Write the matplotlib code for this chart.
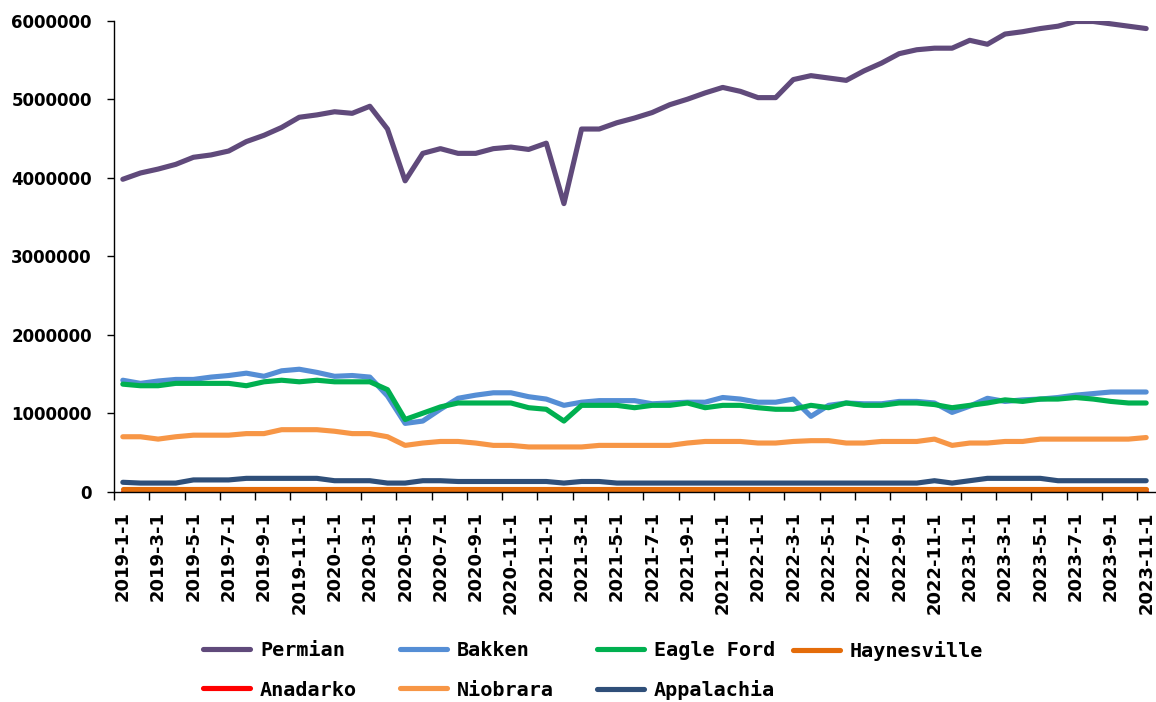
import matplotlib
matplotlib.use("Agg")
import matplotlib.pyplot as plt
from matplotlib.ticker import FixedLocator, FuncFormatter

# ---------------- data ----------------
categories = [f"{y}-{m}-1" for y in range(2019, 2024) for m in range(1, 13)][:59]

permian = [3980000, 4060000, 4110000, 4170000, 4260000, 4290000, 4340000, 4460000, 4540000, 4640000,
           4770000, 4800000, 4840000, 4820000, 4910000, 4620000, 3960000, 4310000, 4370000, 4310000,
           4310000, 4370000, 4390000, 4360000, 4440000, 3670000, 4620000, 4620000, 4700000, 4760000,
           4830000, 4930000, 5000000, 5080000, 5150000, 5100000, 5020000, 5020000, 5250000, 5300000,
           5270000, 5240000, 5360000, 5460000, 5580000, 5630000, 5650000, 5650000, 5750000, 5700000,
           5830000, 5860000, 5900000, 5930000, 5990000, 5990000, 5960000, 5930000, 5900000]

bakken = [1420000, 1380000, 1410000, 1430000, 1430000, 1460000, 1480000, 1510000, 1470000, 1540000,
          1560000, 1520000, 1470000, 1480000, 1460000, 1220000, 870000, 900000, 1050000, 1190000,
          1230000, 1260000, 1260000, 1210000, 1180000, 1100000, 1140000, 1160000, 1160000, 1160000,
          1120000, 1130000, 1140000, 1140000, 1200000, 1180000, 1140000, 1140000, 1180000, 960000,
          1100000, 1130000, 1120000, 1120000, 1150000, 1150000, 1130000, 1010000, 1090000, 1190000,
          1150000, 1170000, 1180000, 1200000, 1230000, 1250000, 1270000, 1270000, 1270000]

eagle_ford = [1370000, 1350000, 1350000, 1380000, 1380000, 1380000, 1380000, 1350000, 1400000, 1420000,
              1400000, 1420000, 1400000, 1400000, 1400000, 1300000, 920000, 1000000, 1080000, 1130000,
              1130000, 1130000, 1130000, 1070000, 1050000, 900000, 1100000, 1100000, 1100000, 1070000,
              1100000, 1100000, 1130000, 1070000, 1100000, 1100000, 1070000, 1050000, 1050000, 1100000,
              1070000, 1130000, 1100000, 1100000, 1130000, 1130000, 1110000, 1070000, 1100000, 1130000,
              1170000, 1150000, 1180000, 1180000, 1200000, 1180000, 1150000, 1130000, 1130000]

haynesville = [35000, 35000, 35000, 35000, 35000, 35000, 35000, 35000, 35000, 35000,
               35000, 35000, 35000, 35000, 35000, 35000, 35000, 35000, 35000, 35000,
               35000, 35000, 35000, 35000, 35000, 35000, 35000, 35000, 35000, 35000,
               35000, 35000, 35000, 35000, 35000, 35000, 35000, 35000, 35000, 35000,
               35000, 35000, 35000, 35000, 35000, 35000, 35000, 35000, 35000, 35000,
               35000, 35000, 35000, 35000, 35000, 35000, 35000, 35000, 35000]

anadarko = [0, 0, 0, 0, 0, 0, 0, 0, 0, 0,
            0, 0, 0, 0, 0, 0, 0, 0, 0, 0,
            0, 0, 0, 0, 0, 0, 0, 0, 0, 0,
            0, 0, 0, 0, 0, 0, 0, 0, 0, 0,
            0, 0, 0, 0, 0, 0, 0, 0, 0, 0,
            0, 0, 0, 0, 0, 0, 0, 0, 0]

niobrara = [700000, 700000, 670000, 700000, 720000, 720000, 720000, 740000, 740000, 790000,
            790000, 790000, 770000, 740000, 740000, 700000, 590000, 620000, 640000, 640000,
            620000, 590000, 590000, 570000, 570000, 570000, 570000, 590000, 590000, 590000,
            590000, 590000, 620000, 640000, 640000, 640000, 620000, 620000, 640000, 650000,
            650000, 620000, 620000, 640000, 640000, 640000, 670000, 590000, 620000, 620000,
            640000, 640000, 670000, 670000, 670000, 670000, 670000, 670000, 690000]

appalachia = [120000, 110000, 110000, 110000, 150000, 150000, 150000, 170000, 170000, 170000,
              170000, 170000, 140000, 140000, 140000, 110000, 110000, 140000, 140000, 130000,
              130000, 130000, 130000, 130000, 130000, 110000, 130000, 130000, 110000, 110000,
              110000, 110000, 110000, 110000, 110000, 110000, 110000, 110000, 110000, 110000,
              110000, 110000, 110000, 110000, 110000, 110000, 140000, 110000, 140000, 170000,
              170000, 170000, 170000, 140000, 140000, 140000, 140000, 140000, 140000]

series_names = ["Permian", "Bakken", "Eagle Ford", "Haynesville", "Anadarko", "Niobrara", "Appalachia"]
series_values = [permian, bakken, eagle_ford, haynesville, anadarko, niobrara, appalachia]
colors = ["#604A7B", "#558ED5", "#00B050", "#E46C0A", "#FF0000", "#F79646", "#2F4F79"]
zorders = [3, 4, 5, 7, 6, 8, 9]

y_ticks = [0, 1000000, 2000000, 3000000, 4000000, 5000000, 6000000]

# ---------------- figure ----------------
W, H = 1156, 702
fig = plt.figure(figsize=(W / 100, H / 100), dpi=100)
ax_left, ax_right, ax_top, ax_bot = 114, 1155, 20.7, 491.7
ax = fig.add_axes([ax_left / W, 1 - ax_bot / H, (ax_right - ax_left) / W, (ax_bot - ax_top) / H])

x = list(range(len(categories)))
lines = []
for name, vals, c, z in zip(series_names, series_values, colors, zorders):
    ln, = ax.plot(x, vals, color=c, lw=3.7, solid_joinstyle="round", solid_capstyle="round",
                  label=name, zorder=z)
    lines.append(ln)

ax.set_xlim(-0.5, len(categories) - 0.5)
ax.set_ylim(0, 6000000)

for s in ["top", "right"]:
    ax.spines[s].set_visible(False)
for s in ["left", "bottom"]:
    ax.spines[s].set_color("black")
    ax.spines[s].set_linewidth(1.0)
    ax.spines[s].set_zorder(20)

# y axis
ax.yaxis.set_major_locator(FixedLocator(y_ticks))
ax.yaxis.set_major_formatter(FuncFormatter(lambda v, p: f"{v:.0f}"))
ax.tick_params(axis="y", direction="out", length=5, width=1, pad=11, labelsize=12)
for lab in ax.get_yticklabels():
    lab.set_fontweight("bold")
    lab.set_family("DejaVu Sans")

# x axis: labels at every other category, tick marks at category boundaries
label_pos = x[::2]
ax.set_xticks(label_pos)
ax.set_xticklabels([categories[i] for i in label_pos], rotation=90, fontsize=13,
                   fontweight="bold", family="DejaVu Sans", va="top", ha="center")
ax.tick_params(axis="x", which="major", length=0, pad=14)
ax.set_xticks([i - 0.5 for i in label_pos], minor=True)
ax.tick_params(axis="x", which="minor", direction="out", length=6, width=1)

# legend: one entry each, placed like the reference grid
leg_font = {"family": "DejaVu Sans Mono", "weight": "bold", "size": 14.5}
fs_px = 14.5 * 100 / 72
col_x = [203, 400, 597, 793]
row_y = [651, 690]
for k, ln in enumerate(lines):
    r, cidx = divmod(k, 4)
    leg = fig.legend(handles=[ln], labels=[ln.get_label()], loc="center left",
                     bbox_to_anchor=(col_x[cidx] / W, 1 - row_y[r] / H),
                     frameon=False, borderpad=0, borderaxespad=0,
                     handlelength=47 / fs_px, handletextpad=10 / fs_px, prop=leg_font)

fig.savefig("out.png", dpi=100)
